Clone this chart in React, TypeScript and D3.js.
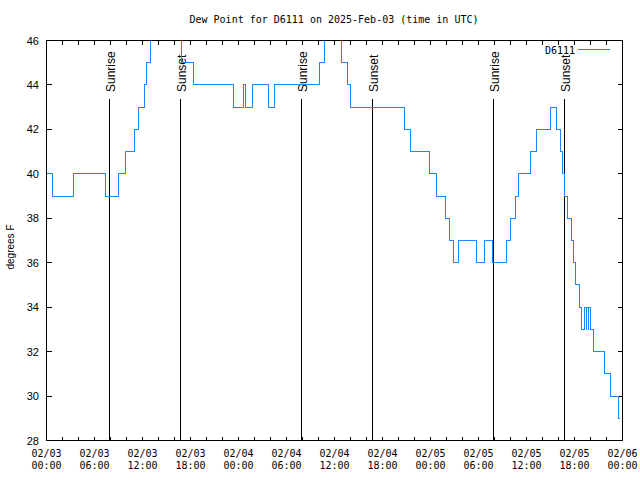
import React from "react";
import * as d3 from "d3";

const TITLE = "Dew Point for D6111 on 2025-Feb-03 (time in UTC)";
const SERIES_NAME = "D6111";
const Y_LABEL = "degrees F";

// hours since 2025-02-03 00:00 UTC at which the reading changes, and the reading (deg F)
const HOURS = [
  0.0, 0.75, 3.4, 7.4, 8.94, 9.875, 11.0, 11.44, 12.2, 12.56, 12.94, 16.85,
  18.4, 23.4, 24.66, 24.87, 25.69, 27.75, 28.5, 34.1, 34.75, 35.0, 36.6, 36.85,
  37.6, 38.0, 44.8, 45.5, 47.9, 48.8, 49.9, 50.4, 50.83, 51.5, 53.8, 54.8,
  55.8, 57.5, 58.0, 58.6, 59.06, 60.56, 61.3, 63.0, 63.8, 64.25, 64.56, 64.8,
  65.16, 65.58, 65.92, 66.17, 66.58, 66.875, 67.25, 67.44, 67.56, 67.7, 67.8,
  68.0, 68.33, 69.8, 70.56, 71.56, 71.7,
];
const DEW_F = [
  40, 39, 40, 39, 40, 41, 42, 43, 44, 45, 47, 45,
  44, 43, 44, 43, 44, 43, 44, 45, 46, 47, 46, 45,
  44, 43, 42, 41, 40, 39, 38, 37, 36, 37, 36, 37,
  36, 37, 38, 39, 40, 41, 42, 43, 42, 41, 40, 39,
  38, 37, 36, 35, 34, 33, 34, 33, 34, 33, 34,
  33, 32, 31, 30, 29, 29,
];

const SUNRISE_HOURS = [7.88, 31.86, 55.84];
const SUNSET_HOURS = [16.75, 40.77, 64.78];

const X_TICK_HOURS = [0, 6, 12, 18, 24, 30, 36, 42, 48, 54, 60, 66, 72];
const X_TICK_DATES = ["02/03", "02/03", "02/03", "02/03", "02/04", "02/04", "02/04", "02/04", "02/05", "02/05", "02/05", "02/05", "02/06"];
const X_TICK_TIMES = ["00:00", "06:00", "12:00", "18:00", "00:00", "06:00", "12:00", "18:00", "00:00", "06:00", "12:00", "18:00", "00:00"];
const Y_TICKS = [28, 30, 32, 34, 36, 38, 40, 42, 44, 46];

const MONO = "'DejaVu Sans Mono', monospace";
const SANS = "'Liberation Sans', Arial, sans-serif";
const LINE_COLOR = "#1a86ff";

export default function App() {
  const W = 640;
  const H = 480;
  const left = 46.5, right = 622.5, top = 40.5, bottom = 440.5;
  const x = d3.scaleLinear().domain([0, 72]).range([left, right]);
  const y = d3.scaleLinear().domain([28, 46]).range([bottom, top]);
  const px = (v: number) => Math.floor(v) + 0.5;

  const data: [number, number][] = HOURS.map((h, i) => [h, DEW_F[i]]);
  const line = d3
    .line<[number, number]>()
    .x((d) => x(d[0]))
    .y((d) => y(d[1]))
    .curve(d3.curveStepAfter);

  const minorX = d3.range(0, 73, 2);
  const markers = [
    ...SUNRISE_HOURS.map((h) => ({ h, label: "Sunrise" })),
    ...SUNSET_HOURS.map((h) => ({ h, label: "Sunset" })),
  ];

  return (
    <svg
      width={W}
      height={H}
      style={{ position: "absolute", left: 0, top: 0, display: "block", background: "#fff" }}
    >
      <rect x={0} y={0} width={W} height={H} fill="#fff" />
      <defs>
        <clipPath id="plotclip">
          <rect x={left} y={top} width={right - left} height={bottom - top} />
        </clipPath>
      </defs>

      <text x={334} y={23} fontFamily={MONO} fontSize={10} textAnchor="middle" fill="#000">
        {TITLE}
      </text>

      {/* ticks */}
      <g stroke="#000" strokeWidth={1} shapeRendering="crispEdges">
        {minorX.map((h) => (
          <g key={"xt" + h}>
            <line x1={px(x(h))} x2={px(x(h))} y1={bottom} y2={bottom - 4} />
            <line x1={px(x(h))} x2={px(x(h))} y1={top} y2={top + 4} />
          </g>
        ))}
        {Y_TICKS.map((v) => (
          <g key={"yt" + v}>
            <line x1={left} x2={left + 5} y1={px(y(v))} y2={px(y(v))} />
            <line x1={right} x2={right - 5} y1={px(y(v))} y2={px(y(v))} />
          </g>
        ))}
      </g>

      {/* y tick labels */}
      {Y_TICKS.map((v) => (
        <text key={"yl" + v} x={39} y={y(v) + 4} fontFamily={SANS} fontSize={11} textAnchor="end" fill="#000">
          {v}
        </text>
      ))}

      {/* x tick labels */}
      {X_TICK_HOURS.map((h, i) => (
        <g key={"xl" + h}>
          <text x={x(h)} y={457} fontFamily={MONO} fontSize={10} textAnchor="middle" fill="#000">
            {X_TICK_DATES[i]}
          </text>
          <text x={x(h)} y={469} fontFamily={MONO} fontSize={10} textAnchor="middle" fill="#000">
            {X_TICK_TIMES[i]}
          </text>
        </g>
      ))}

      <text
        transform={`translate(14,247) rotate(-90)`}
        fontFamily={SANS}
        fontSize={10}
        textAnchor="middle"
        fill="#000"
      >
        {Y_LABEL}
      </text>

      {/* sunrise / sunset markers */}
      {markers.map((m, i) => {
        const mx = px(x(m.h));
        return (
          <g key={"m" + i}>
            <line x1={mx} x2={mx} y1={99} y2={bottom} stroke="#000" strokeWidth={1} shapeRendering="crispEdges" />
            <text
              transform={`translate(${mx + 5},92) rotate(-90)`}
              fontFamily={SANS}
              fontSize={12}
              fill="#000"
            >
              {m.label}
            </text>
          </g>
        );
      })}

      {/* data line */}
      <path
        d={line(data) || ""}
        fill="none"
        stroke={LINE_COLOR}
        strokeWidth={1}
        shapeRendering="crispEdges"
        clipPath="url(#plotclip)"
      />

      {/* frame */}
      <rect
        x={left}
        y={top}
        width={right - left}
        height={bottom - top}
        fill="none"
        stroke="#000"
        strokeWidth={1}
        shapeRendering="crispEdges"
      />

      {/* legend */}
      <text x={575} y={53.5} fontFamily={MONO} fontSize={10} textAnchor="end" fill="#000">
        {SERIES_NAME}
      </text>
      <line x1={578} x2={610} y1={49.5} y2={49.5} stroke={LINE_COLOR} strokeWidth={1} shapeRendering="crispEdges" />
    </svg>
  );
}
